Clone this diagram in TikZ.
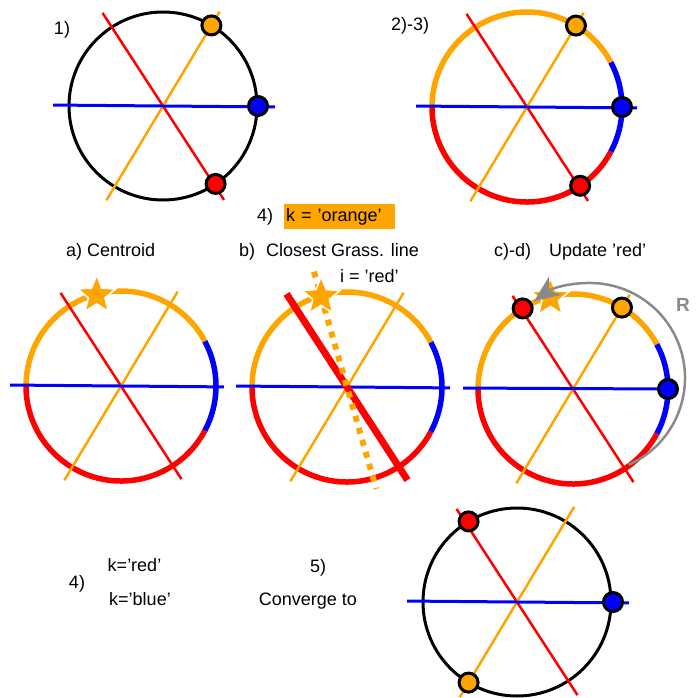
\documentclass[tikz,border=0pt]{standalone}
\usepackage{fontspec}
\setmainfont{Liberation Sans}
\usepackage{xcolor}
\usepackage{tikz}
\usetikzlibrary{shapes.geometric,arrows.meta,calc}

\definecolor{kOrange}{HTML}{FFA500}
\definecolor{kRed}{HTML}{FF0000}
\definecolor{kBlue}{HTML}{0000FF}
\definecolor{kGray}{HTML}{8A8A8A}

\begin{document}
\begin{tikzpicture}[
  x=1pt, y=-1pt,
  lbl/.style={font=\fontsize{18}{21}\selectfont, inner sep=0pt},
  ring/.style={draw=black, line width=3pt},
  arcw/.style={line width=5.5pt},
  redln/.style={draw=kRed, line width=2.5pt},
  orgln/.style={draw=kOrange, line width=2.5pt},
  bluln/.style={draw=kBlue, line width=3pt},
  dot/.style={circle, draw=black, line width=3pt, minimum size=19pt, inner sep=0pt},
  centroid/.style={star, star points=5, star point ratio=2.3, minimum size=40pt, inner sep=0pt, fill=kOrange, draw=white, line width=1.5pt}
]
\useasboundingbox (0,0) rectangle (698,698);

\coordinate (c1) at (163,106);
\coordinate (c2) at (527,107);
\coordinate (ca) at (121,386);
\coordinate (cb) at (347,387);
\coordinate (cc) at (573,389);
\coordinate (c5) at (517,602);

% 1)
\node[lbl] (s1) at (62,30) {1)};
\draw[ring] (c1) circle[radius=94];
\draw[redln] ($(c1)+(237:111)$) -- ($(c1)+(57:112)$);
\draw[orgln] ($(c1)+(121:110)$) -- ($(c1)+(-59:110)$);
\draw[bluln] ($(c1)+(180.5:110)$) -- ($(c1)+(0.5:112)$);
\node[dot, fill=kOrange] (o1) at ($(c1)+(-59:94)$) {};
\node[dot, fill=kBlue] (b1) at ($(c1)+(0:95)$) {};
\node[dot, fill=kRed] (r1) at ($(c1)+(56:94)$) {};

% 2)-3)
\node[lbl] (s2) at (410,26) {2)-3)};
\draw[arcw, kOrange] ($(c2)+(-180:95)$) arc[start angle=-180, end angle=-28, radius=95];
\draw[arcw, kBlue] ($(c2)+(-28:95)$) arc[start angle=-28, end angle=28, radius=95];
\draw[arcw, kRed] ($(c2)+(28:95)$) arc[start angle=28, end angle=180, radius=95];
\draw[redln] ($(c2)+(237:111)$) -- ($(c2)+(57:112)$);
\draw[orgln] ($(c2)+(121:110)$) -- ($(c2)+(-59:110)$);
\draw[bluln] ($(c2)+(180.5:111)$) -- ($(c2)+(0.5:110)$);
\node[dot, fill=kOrange] (o2) at ($(c2)+(-59:95)$) {};
\node[dot, fill=kBlue] (b2) at ($(c2)+(0:95)$) {};
\node[dot, fill=kRed] (r2) at ($(c2)+(56:95)$) {};

% 4)
\node[lbl] (s4) at (265,217) {4)};
\node[lbl, anchor=west, fill=kOrange, text width=107pt, align=left, inner sep=2pt, minimum height=25pt] (kor) at (284,216.5) {k = ’orange’};

\node[lbl, anchor=west] (ta) at (66,252) {a) Centroid};
\node[lbl, anchor=west] (tb) at (239,252) {b)\hspace{6pt} Closest Grass. line};
\node[lbl, anchor=west] (tc) at (494,252) {c)-d)\hspace{13pt} Update ’red’};
\node[lbl, anchor=west] (ti) at (340,276) {i = ’red’};

% a) centroid
\draw[arcw, kOrange] ($(ca)+(-180:95)$) arc[start angle=-180, end angle=-28, radius=95];
\draw[arcw, kBlue] ($(ca)+(-28:95)$) arc[start angle=-28, end angle=28, radius=95];
\draw[arcw, kRed] ($(ca)+(28:95)$) arc[start angle=28, end angle=180, radius=95];
\draw[redln] ($(ca)+(237:111)$) -- ($(ca)+(57:111)$);
\draw[orgln] ($(ca)+(121:110)$) -- ($(ca)+(-59:110)$);
\draw[bluln] ($(ca)+(180.5:111)$) -- ($(ca)+(0.5:103)$);
\node[centroid] (sa) at ($(ca)+(-105:94)$) {};

% b) closest line
\draw[arcw, kOrange] ($(cb)+(-180:95)$) arc[start angle=-180, end angle=-28, radius=95];
\draw[arcw, kBlue] ($(cb)+(-28:95)$) arc[start angle=-28, end angle=28, radius=95];
\draw[arcw, kRed] ($(cb)+(28:95)$) arc[start angle=28, end angle=180, radius=95];
\draw[orgln] ($(cb)+(121:110)$) -- ($(cb)+(-59:110)$);
\draw[bluln] ($(cb)+(180.5:111)$) -- ($(cb)+(0.5:103)$);
\draw[redln, line width=7pt] ($(cb)+(237:111)$) -- ($(cb)+(57:111)$);
\draw[kOrange, line width=6pt, dash pattern=on 6pt off 6.5pt] ($(cb)+(-106:120)$) -- ($(cb)+(74:106)$);
\node[centroid] (sb) at ($(cb)+(-106:94)$) {};

% c)-d) update
\draw[arcw, kOrange] ($(cc)+(-180:95)$) arc[start angle=-180, end angle=-28, radius=95];
\draw[arcw, kBlue] ($(cc)+(-28:95)$) arc[start angle=-28, end angle=28, radius=95];
\draw[arcw, kRed] ($(cc)+(28:95)$) arc[start angle=28, end angle=180, radius=95];
\draw[redln] ($(cc)+(237:111)$) -- ($(cc)+(57:111)$);
\draw[orgln] ($(cc)+(121:110)$) -- ($(cc)+(-59:110)$);
\draw[bluln] ($(cc)+(180.5:110)$) -- ($(cc)+(0:94)$);
\node[centroid] (sc) at ($(cc)+(-104:94)$) {};
\node[dot, fill=kRed] (r3) at ($(cc)+(-122:95)$) {};
\node[dot, fill=kOrange] (o3) at ($(cc)+(-59:95)$) {};
\node[dot, fill=kBlue] (b3) at ($(cc)+(0:95)$) {};
\coordinate (gc) at (590,378);
\draw[kGray, line width=2.5pt, -{Stealth[length=26pt, width=22pt, inset=8pt]}] ($(gc)+(66:95)$) arc[start angle=66, end angle=-126, radius=95];
\node[lbl, font=\fontsize{19}{21}\selectfont\bfseries, text=kGray] (rr) at (683,305) {R};

% 4) 5) converge
\node[lbl] (s4b) at (77,584) {4)};
\node[lbl] (kr) at (134.5,565) {k=’red’};
\node[lbl] (kb) at (140,599) {k=’blue’};
\node[lbl] (s5) at (318,568) {5)};
\node[lbl] (cv) at (308,601) {Converge to};

\draw[ring] (c5) circle[radius=94];
\draw[redln] ($(c5)+(237:111)$) -- ($(c5)+(57:111)$);
\draw[orgln] ($(c5)+(121:111)$) -- ($(c5)+(-59:111)$);
\draw[bluln] ($(c5)+(180.5:110)$) -- ($(c5)+(0.5:112)$);
\node[dot, fill=kRed] (r5) at ($(c5)+(-121:94)$) {};
\node[dot, fill=kBlue] (b5) at ($(c5)+(0:96)$) {};
\node[dot, fill=kOrange] (o5) at ($(c5)+(121:94)$) {};

\end{tikzpicture}
\end{document}
